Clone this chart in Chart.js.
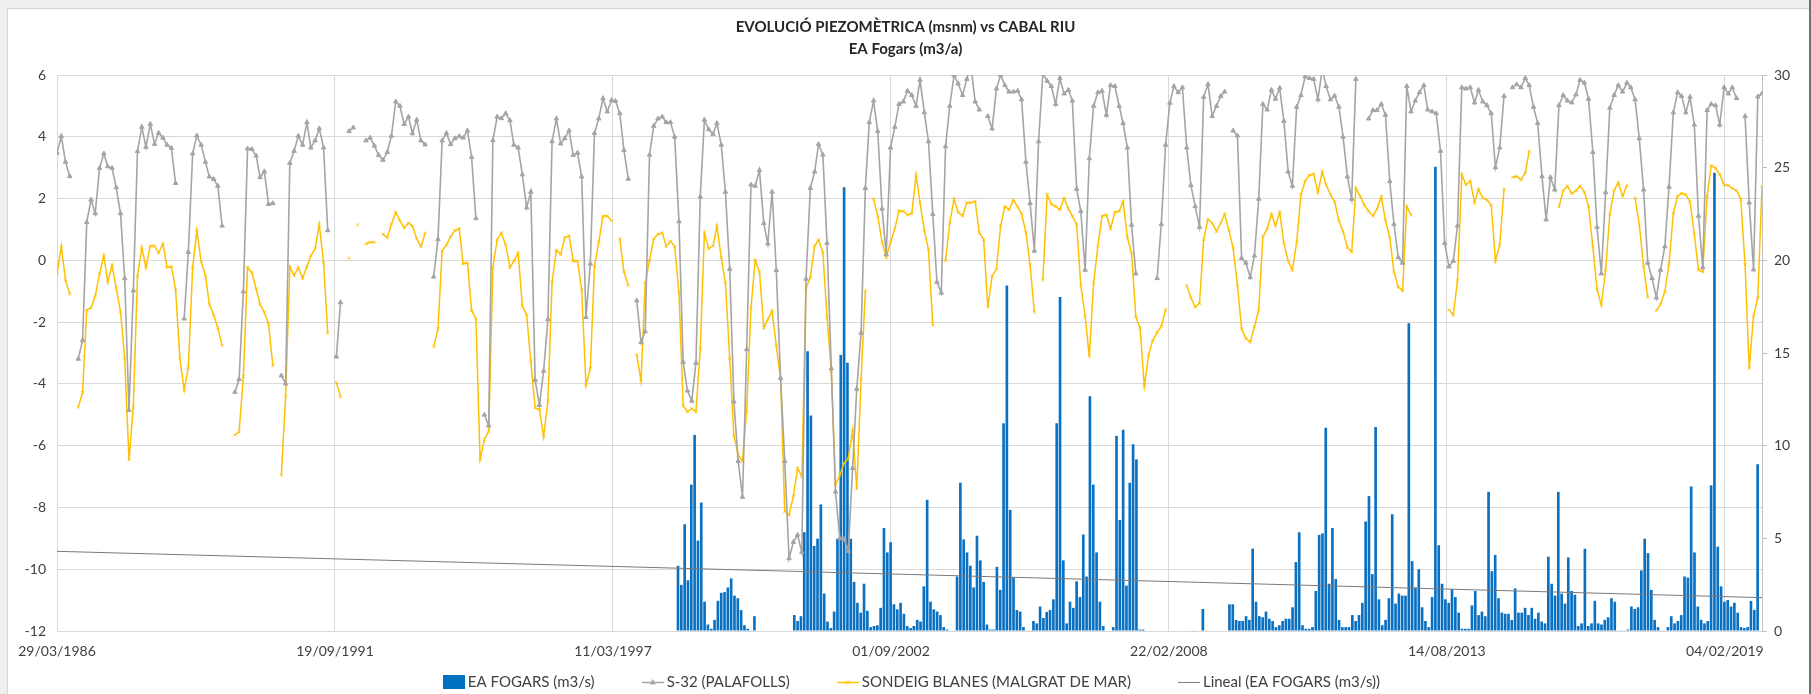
<!DOCTYPE html>
<html>
<head>
<meta charset="utf-8">
<script src="https://cdn.jsdelivr.net/npm/chart.js@4.4.1/dist/chart.umd.min.js"></script>
<style>
  html, body { margin: 0; padding: 0; width: 1811px; height: 694px; overflow: hidden; background: #efefef; }
  #frame { position: absolute; left: 7px; top: 8px; width: 1802px; height: 700px; background: #fff; border: 1px solid #d4d4d4; }
  #edge { position: absolute; left: 1809px; top: 0; width: 2px; height: 694px; background: #707070; }
  #chart { position: absolute; left: 0; top: 0; }
</style>
</head>
<body>
<div id="frame"></div>
<div id="edge"></div>
<canvas id="chart" width="1811" height="694"></canvas>
<script>
// piezometer readings: one value per month from monthStart (null = no reading)
const monthStart = '29/03/1986';
const xTickLabels = ['29/03/1986', '19/09/1991', '11/03/1997', '01/09/2002', '22/02/2008', '14/08/2013', '04/02/2019'];

// S-32 (PALAFOLLS), msnm
const s32Values = [
  3.48, 4.02, 3.19, 2.72, null, -3.19, -2.59, 1.24, 1.96, 1.52, 2.99, 3.46,
  3.04, 2.99, 2.36, 1.52, -0.58, -4.85, -0.98, 3.53, 4.32, 3.67, 4.41, 3.77,
  4.13, 3.97, 3.74, 3.64, 2.50, null, -1.89, 0.27, 3.46, 4.04, 3.74, 3.19,
  2.71, 2.63, 2.41, 1.12, null, null, -4.26, -3.85, -1.01, 3.62, 3.60, 3.39,
  2.69, 2.88, 1.82, 1.85, null, -3.73, -3.99, 3.15, 3.54, 4.03, 3.74, 4.47,
  3.65, 3.88, 4.27, 3.65, 0.97, null, -3.12, -1.36, null, 4.18, 4.30, null,
  null, 3.88, 3.97, 3.71, 3.41, 3.25, 3.50, 4.03, 5.14, 5.00, 4.41, 4.65,
  4.11, 4.55, 3.88, 3.75, null, -0.53, 0.68, 3.88, 4.12, 3.76, 3.95, 4.02,
  3.97, 4.20, 3.34, 1.36, null, -5.00, -5.35, 3.89, 4.65, 4.60, 4.76, 4.53,
  3.74, 3.65, 2.78, 1.71, 2.22, -3.87, -4.69, -3.58, -1.91, 3.85, 4.59, 3.78,
  3.95, 4.20, 3.41, 3.48, 2.71, -1.84, -0.11, 4.12, 4.59, 5.25, 4.82, 5.19,
  5.16, 4.76, 3.57, 2.64, null, -1.30, -2.65, -2.30, 3.42, 4.35, 4.59, 4.65,
  4.47, 4.47, 4.00, 1.26, -3.29, -4.22, -4.55, -3.32, 2.06, 4.55, 4.24, 4.09,
  4.44, 3.74, 2.22, -0.28, -4.57, -6.50, -7.66, -2.88, 2.45, 2.41, 2.92, 1.20,
  0.54, 2.22, -0.32, -3.81, -6.50, -9.65, -9.12, -8.89, -9.45, -0.60, 2.34, 2.87,
  3.76, 3.42, 0.56, -3.50, -7.49, -9.00, -9.03, -9.41, -6.73, -4.16, -2.35, 2.34,
  4.47, 5.17, 4.18, 1.67, 0.19, 3.65, 4.32, 5.06, 5.14, 5.49, 5.35, 5.00,
  5.84, 4.79, 3.85, 1.50, -0.70, -1.05, 3.69, 5.00, 6.00, 5.72, 5.35, 5.87,
  6.30, 5.14, 4.88, null, 4.67, 4.27, 5.56, 6.00, 5.67, 5.46, 5.46, 5.49,
  5.21, 3.19, 1.85, 0.31, 3.85, 6.05, 5.81, 5.64, 5.06, 5.90, 5.40, 5.52,
  5.17, 2.31, 1.59, -0.31, 3.30, 5.00, 5.44, 5.49, 4.71, 5.67, 5.64, 5.00,
  4.44, 3.65, 1.15, -0.43, null, null, null, null, -0.58, 1.17, 3.74, 5.10,
  5.64, 5.44, 5.60, 3.65, 2.43, 1.75, 1.08, 5.29, 5.70, 4.67, 5.00, 5.32,
  5.46, null, 4.20, 4.04, 0.07, -0.08, -0.55, 0.15, 1.99, 5.06, 4.88, 5.52,
  5.23, 5.58, 4.51, 2.87, 2.41, 4.97, 5.35, 5.95, 5.90, 5.87, 5.21, 6.20,
  5.64, 5.21, 5.33, 4.97, 4.00, 2.71, 1.99, 5.87, null, null, 4.59, 4.86,
  4.86, 5.06, 4.71, 2.56, 1.17, 0.10, -0.08, 5.64, 4.82, 5.17, 5.44, 5.67,
  4.88, 4.82, 4.76, 3.54, 0.56, -0.20, -0.02, 1.12, 5.60, 5.56, 5.60, 5.11,
  5.52, 5.14, 5.02, 4.76, 3.01, 3.65, 5.32, null, 5.60, 5.70, 5.60, 5.90,
  5.67, 4.97, 4.44, 2.72, 1.32, 2.69, 2.29, 5.02, 5.35, 5.17, 5.11, 5.37,
  5.84, 5.75, 5.23, 3.50, 1.08, -0.43, 2.20, 4.94, 5.35, 5.67, 5.46, 5.75,
  5.60, 5.21, 3.95, 2.29, -0.08, -0.58, -1.21, -0.31, 0.45, 2.38, 4.79, 5.44,
  5.32, 4.79, 5.29, 4.39, 1.44, -0.23, 4.86, 5.06, 5.02, 4.39, 5.60, 5.40,
  5.60, 5.25, null, 4.67, 1.87, -0.30, 5.30, 5.40
];

// SONDEIG BLANES (MALGRAT DE MAR), msnm
const blanesValues = [
  -0.43, 0.45, -0.63, -1.09, null, -4.75, -4.28, -1.60, -1.54, -1.16, -0.43, 0.15,
  -0.70, -0.16, -0.90, -1.66, -3.17, -6.46, -4.75, -0.51, 0.42, -0.23, 0.47, 0.47,
  0.24, 0.54, -0.23, -0.20, -0.93, -3.17, -4.20, -3.46, -0.23, 0.97, -0.04, -0.49,
  -1.42, -1.77, -2.18, -2.76, null, null, -5.65, -5.56, -3.76, -0.23, -0.39, -0.93,
  -1.42, -1.68, -2.06, -3.41, null, -6.96, -4.40, -0.20, -0.49, -0.23, -0.58, -0.20,
  0.15, 0.38, 1.17, -0.08, -2.36, null, -3.95, -4.42, null, 0.07, null, 1.15,
  null, 0.54, 0.59, 0.59, null, 0.85, 0.74, 1.17, 1.56, 1.29, 1.05, 1.21,
  1.12, 0.70, 0.45, 0.89, null, -2.80, -2.22, 0.31, 0.50, 0.77, 0.97, 1.03,
  -0.11, -0.08, -1.62, -1.89, -6.44, -5.80, -5.53, -0.23, 0.68, 0.89, 0.50, -0.23,
  -0.02, 0.24, -1.48, -1.77, -3.26, -4.78, -4.83, -5.71, -4.55, -0.70, 0.33, 0.19,
  0.74, 0.80, -0.02, -0.02, -0.95, -4.05, -3.50, -0.20, 0.59, 1.44, 1.44, 1.28,
  null, 0.70, -0.37, -0.81, null, -3.05, -3.90, -0.72, 0.00, 0.70, 0.85, 0.89,
  0.45, 0.62, 0.45, -1.05, -4.71, -4.90, -4.80, -4.90, -2.85, 0.89, 0.38, 0.47,
  1.12, 0.09, -0.72, -3.17, -5.68, -6.30, -6.50, -4.87, -1.54, 0.00, -0.37, -2.18,
  -1.91, -1.63, -2.76, -3.85, -8.13, -8.25, -7.63, -6.73, -7.00, -0.90, -0.55, 0.47,
  0.66, 0.27, -1.83, -3.58, -7.26, -6.96, -6.56, -6.42, -5.50, -7.40, -3.85, -0.98,
  null, 1.99, 1.44, 0.59, 0.10, 0.59, 1.03, 1.61, 1.59, 1.47, 1.52, 2.76,
  1.87, 0.97, 0.35, -2.10, null, null, 0.00, 1.21, 1.99, 1.56, 1.44, 1.87,
  1.87, 1.91, 0.89, 0.68, -1.51, -0.51, -0.28, 1.12, 1.75, 1.64, 1.96, 1.73,
  1.50, 0.91, -0.14, -1.68, null, -0.63, 2.13, 1.82, 1.75, 1.64, 2.02, 1.67,
  1.44, 1.17, -0.81, -1.80, -3.11, -0.74, 0.47, 1.44, 1.47, 1.03, 1.56, 1.59,
  1.91, 0.74, 0.24, -1.83, -2.18, -4.08, -3.05, -2.59, -2.33, -2.14, -1.59, null,
  null, null, null, -0.81, -1.20, -1.51, -1.39, 0.68, 1.33, 1.21, 0.94, 1.21,
  1.50, 0.97, 0.39, -0.81, -2.22, -2.53, -2.65, -2.15, -1.60, 0.77, 1.03, 1.50,
  1.12, 1.56, 0.56, -0.02, -0.31, 0.59, 2.13, 2.57, 2.76, 2.80, 2.20, 2.87,
  2.45, 2.13, 1.90, 1.29, 0.94, 0.42, 0.27, 2.34, 2.08, 1.79, 1.59, 1.44,
  1.67, 2.06, 1.29, 0.74, -0.37, -0.86, -0.98, 1.75, 1.47, null, null, null,
  null, null, null, null, null, -1.60, -1.77, -0.66, 2.78, 2.45, 2.57, 1.87,
  2.31, 2.02, 1.96, 1.79, -0.02, 0.50, 2.31, null, 2.69, 2.72, 2.61, 2.84,
  3.54, null, null, null, null, null, null, 1.73, 2.26, 2.41, 2.17, 2.26,
  2.41, 2.22, 1.75, 0.44, -0.93, -1.45, -0.31, 1.50, 2.26, 2.52, 2.08, 2.43,
  null, 2.02, 1.17, -0.20, -1.19, null, -1.63, -1.42, -1.01, -0.11, 1.52, 2.08,
  2.17, 2.13, 1.90, 0.85, -0.31, -0.37, 2.08, 3.07, 2.99, 2.78, 2.45, 2.43,
  2.34, 2.26, 1.99, -0.14, -3.50, -1.80, -1.20, 2.40
];

// EA FOGARS (m3/s): readings every fogarsStepDays from fogarsStart
const fogarsStart = '22/06/1998';
const fogarsStepDays = 23.9;
const fogarsValues = [
  3.52, 2.49, 5.76, 2.74, 7.9, 10.58, 4.88, 6.93, 1.58, 0.35, 0.12, 0.6,
  1.63, 2.06, 2.1, 2.35, 2.84, 1.91, 1.77, 1.13, 0.31, 0.12, 0.02, 0.8,
  null, null, null, null, null, null, null, null, null, null, null,
  0.86, 0.54, 0.8, 5.33, 15.1, 11.63, 4.59, 4.98, 6.83, 2.02, 0.51, 0.16,
  1.05, 4.98, 14.9, 23.95, 14.47, 4.98, 2.65, 1.52, 0.99, 2.55, 1.09, 0.21,
  0.27, 0.31, 1.25, 5.56, 4.24, 4.79,
  1.44, 1.17, 1.52, 0.93, 0.27, 0.16, 0.27, 0.6, 0.51, 2.41, 7.08, 1.58,
  1.17, 1.05, 0.86, 0.21, 0.08, null,
  0.02, 2.94, 8.0, 4.94, 4.24, 3.52, 2.35, 5.14, 3.81, 2.65, 0.35, 0.08,
  0.08, 3.46, 2.22, 11.21, 18.64, 6.54, 2.88, 1.13, 1.05, 0.21, 0.02, 0.02,
  0.54, 0.41, 1.32, 0.7, 1.03, 1.13, 1.71, 11.21, 18.02, 3.81, 0.41, 1.58,
  1.25, 2.68, 1.83, 5.21, 2.94, 12.67, 7.9, 4.24, 1.58, 0.27, null, null,
  0.21, 10.53, 5.99, 10.86, 2.45, 8.0, 10.08, 9.26, 0.08, 0.08,
  null, null, null, null, null, null, null, null, null, null, null, null, null, null,
  0.02, null, null, 1.19, 0.02, null, null, null, null, null, null,
  1.44, 1.44, 0.6, 0.54, 0.54, 0.8, 0.6, 4.44, 1.58, 0.8, 0.74, 1.05,
  0.66, 0.54, 0.21, 0.31, 0.54, 0.66, 0.66, 1.28, 3.72, 5.33, 0.31, 0.12,
  0.12, 0.21, 2.16, 5.18, 5.27, 10.97, 2.55, 5.56, 2.8, 0.6, 0.21, 0.21,
  0.21, 0.86, 0.54, 0.86, 1.52, 5.91, 7.28, 3.07, 11.01, 1.71, 0.31, 0.6,
  1.77, 6.3, 1.48, 2.02, 1.91, 1.91, 16.61, 3.77, 2.35, 3.33, 1.28, 0.54,
  0.21, 1.83, 25.06, 4.63, 2.55,
  1.71, 1.52, 2.26, 1.83, 0.99, 0.12, 0.12, 0.12, 1.38, 2.16, 0.86, 1.05,
  0.8, 7.51, 3.23, 4.1, 1.77, 0.99, 0.93, 0.93, 0.6, 2.3, 0.99, 0.99,
  1.25, 0.86, 1.25, 0.66, 0.99, 0.51, 0.41, 4.01, 2.55, 1.91, 7.51, 2.02,
  1.48, 3.97, 2.16, 1.96, 0.27, 0.41, 4.44, 0.27, 0.41, 1.63, 0.41, 0.35,
  0.6, 0.74, 1.77, 1.58, 0.02, 0.02, 0.02, 0.08, 1.32, 1.19, 1.28, 3.27,
  4.98, 4.2, 2.22, 0.6, 0.21, 0.02, 0.02, 0.21, 0.8, 0.41, 0.54, 0.86,
  2.94, 2.88, 7.8, 4.24, 1.32, 0.6, 0.41, 0.54, 7.86, 24.73, 4.55, 2.41,
  1.58, 1.67, 1.32, 1.52, 0.99, 0.21, 0.16, 0.21, 1.62, 1.14, 9.0
];

// Lineal (EA FOGARS) trend, value at first and last date
const trendValues = [4.3, 1.8];

const seriesLabels = ['EA FOGARS (m3/s)', 'S-32 (PALAFOLLS)', 'SONDEIG BLANES (MALGRAT DE MAR)', 'Lineal (EA FOGARS (m3/s))'];

const FONT = 'Lato';
const TEXT = '#404040';

// dd/mm/yyyy -> day number
function toDay(str) {
  const [d, m, y] = str.split('/').map(Number);
  return Date.UTC(y, m - 1, d) / 86400000;
}

function monthDay(i) {
  const [d, m, y] = monthStart.split('/').map(Number);
  return Date.UTC(y, m - 1 + i, d) / 86400000;
}

const firstDay = toDay(monthStart);
const lastDay = monthDay(s32Values.length - 1);

const s32Data = s32Values.map((v, i) => ({ x: monthDay(i), y: v }));
const blanesData = blanesValues.map((v, i) => ({ x: monthDay(i), y: v }));
const fogarsData = fogarsValues.map((v, k) => ({ x: toDay(fogarsStart) + k * fogarsStepDays, y: v }));
const trendData = [{ x: firstDay, y: trendValues[0] }, { x: lastDay, y: trendValues[1] }];

// legend symbols drawn like the excel ones
function legendIcon(kind) {
  const c = document.createElement('canvas');
  c.width = 22;
  c.height = 14;
  const g = c.getContext('2d');
  if (kind === 'bar') {
    g.fillStyle = '#0070C0';
    g.fillRect(0, 0, 22, 14);
    return c;
  }
  const color = kind === 's32' ? '#A5A5A5' : kind === 'blanes' ? '#FFC000' : '#7F7F7F';
  g.strokeStyle = color;
  g.lineWidth = kind === 'trend' ? 1 : 1.5;
  g.beginPath();
  g.moveTo(0, 7.5);
  g.lineTo(22, 7.5);
  g.stroke();
  if (kind === 's32') {
    g.fillStyle = color;
    g.beginPath();
    g.moveTo(11, 4);
    g.lineTo(14, 9.5);
    g.lineTo(8, 9.5);
    g.closePath();
    g.fill();
  } else if (kind === 'blanes') {
    g.lineWidth = 1;
    g.beginPath();
    g.moveTo(9, 5.5); g.lineTo(13, 9.5);
    g.moveTo(13, 5.5); g.lineTo(9, 9.5);
    g.stroke();
  }
  return c;
}

const icons = [legendIcon('bar'), legendIcon('s32'), legendIcon('blanes'), legendIcon('trend')];

// excel style legend: symbol, small gap, text, wide gap; centred under the plot
const excelLegend = {
  id: 'excelLegend',
  afterDraw(chart) {
    const ctx = chart.ctx;
    const area = chart.chartArea;
    ctx.save();
    ctx.font = '15px ' + FONT;
    ctx.textBaseline = 'middle';
    ctx.fillStyle = TEXT;
    const items = chart.data.datasets.map((ds, i) => ({ text: ds.label, icon: icons[i], w: ctx.measureText(ds.label).width }));
    const symGap = 3, itemGap = 47;
    const total = items.reduce((s, it) => s + it.icon.width + symGap + it.w, 0) + itemGap * (items.length - 1);
    let x = (area.left + area.right) / 2 + 2 - total / 2;
    const y = chart.height - 12;
    items.forEach(it => {
      ctx.drawImage(it.icon, x, y - 7);
      x += it.icon.width + symGap;
      ctx.fillText(it.text, x, y);
      x += it.w + itemGap;
    });
    ctx.restore();
  }
};

function draw() {
  new Chart(document.getElementById('chart'), {
    type: 'line',
    data: {
      datasets: [
        {
          type: 'bar',
          label: seriesLabels[0],
          data: fogarsData,
          yAxisID: 'y1',
          backgroundColor: '#0A70C2',
          borderWidth: 0,
          barPercentage: 0.8,
          categoryPercentage: 1,
          order: 4
        },
        {
          label: seriesLabels[1],
          data: s32Data,
          yAxisID: 'y',
          borderColor: '#A5A5A5',
          backgroundColor: '#A5A5A5',
          borderWidth: 1.6,
          pointStyle: 'triangle',
          pointRadius: 2.6,
          pointBorderWidth: 1,
          pointBackgroundColor: '#A5A5A5',
          pointBorderColor: '#A5A5A5',
          tension: 0,
          spanGaps: false,
          order: 1
        },
        {
          label: seriesLabels[2],
          data: blanesData,
          yAxisID: 'y',
          borderColor: '#FFC000',
          backgroundColor: '#FFC000',
          borderWidth: 1.5,
          pointStyle: 'crossRot',
          pointRadius: 2.2,
          pointBorderWidth: 0.8,
          pointBorderColor: '#FFC000',
          tension: 0,
          spanGaps: false,
          order: 2
        },
        {
          label: seriesLabels[3],
          data: trendData,
          yAxisID: 'y1',
          borderColor: '#7A7A7A',
          borderWidth: 1,
          pointRadius: 0,
          order: 3
        }
      ]
    },
    plugins: [excelLegend],
    options: {
      responsive: false,
      animation: false,
      events: [],
      layout: { padding: { left: 0, right: 0, top: 0, bottom: 30 } },
      plugins: {
        tooltip: { enabled: false },
        legend: { display: false },
        title: {
          display: true,
          text: ['EVOLUCIÓ PIEZOMÈTRICA (msnm) vs CABAL RIU', 'EA Fogars (m3/a)'],
          color: '#262626',
          font: { family: FONT, size: 15, weight: 'bold', lineHeight: 1.47 },
          padding: { top: 16, bottom: 15 }
        }
      },
      scales: {
        x: {
          type: 'linear',
          min: firstDay,
          max: lastDay,
          offset: false,
          afterBuildTicks: scale => {
            scale.ticks = xTickLabels.map(l => ({ value: toDay(l) }));
          },
          afterFit: scale => { scale.height = 694 - 30 - 631; },
          ticks: {
            autoSkip: false,
            maxRotation: 0,
            padding: 12,
            color: TEXT,
            font: { family: FONT, size: 14 },
            callback: (value, index) => xTickLabels[index]
          },
          grid: { color: '#D9D9D9', drawTicks: false, offset: false },
          border: { color: '#D9D9D9' }
        },
        y: {
          position: 'left',
          min: -12,
          max: 6,
          afterFit: scale => { scale.width = 57; },
          ticks: { stepSize: 2, padding: 11, color: TEXT, font: { family: FONT, size: 14 } },
          grid: { color: '#D9D9D9', drawTicks: false },
          border: { color: '#D9D9D9' }
        },
        y1: {
          position: 'right',
          min: 0,
          max: 30,
          afterFit: scale => { scale.width = 49; },
          ticks: { stepSize: 5, padding: 7, color: TEXT, font: { family: FONT, size: 14 } },
          grid: { drawOnChartArea: false, drawTicks: true, tickLength: 5, color: '#BFBFBF' },
          border: { color: '#BFBFBF' }
        }
      }
    }
  });
}

document.fonts.load('14px Lato').then(draw, draw);
</script>
</body>
</html>
